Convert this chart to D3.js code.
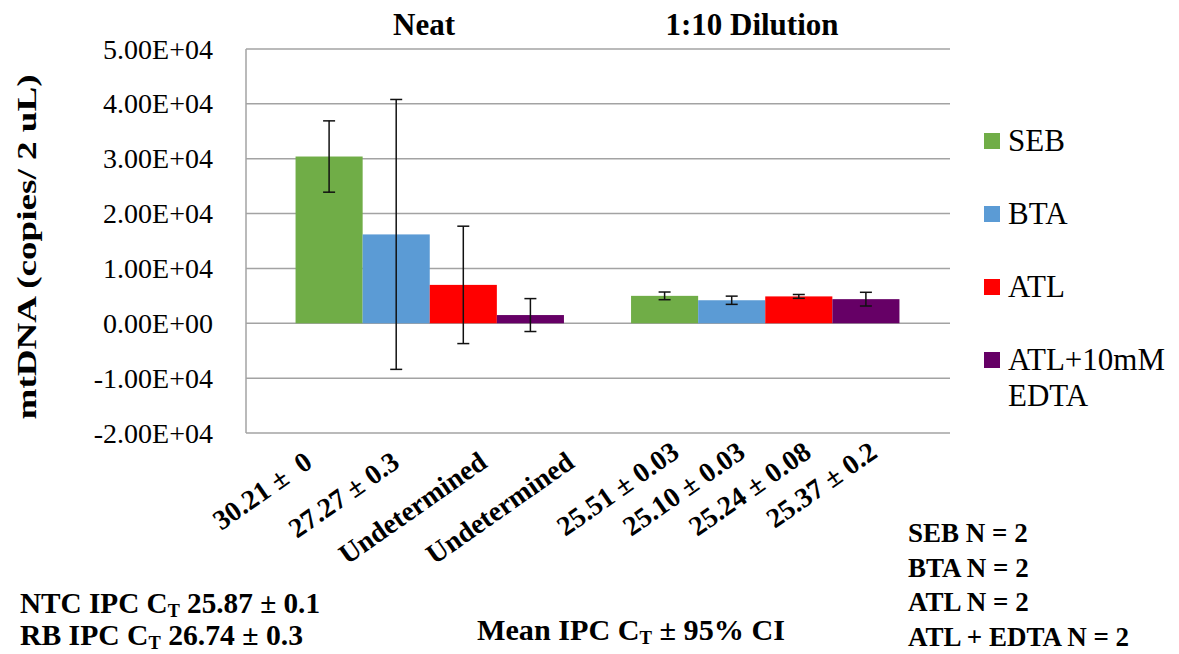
<!DOCTYPE html>
<html>
<head>
<meta charset="utf-8">
<script src="https://cdn.jsdelivr.net/npm/d3@7"></script>
</head>
<body style="margin:0;background:#fff">
<svg id="chart" width="1179" height="654" style="display:block"></svg>
<script>
// ---- data ----
const groups = ["Neat", "1:10 Dilution"];
const seriesNames = ["SEB", "BTA", "ATL", "ATL+10mM EDTA"];
const seriesColors = ["#70AD47", "#5B9BD5", "#FF0000", "#660066"];
const neatValues = [30400, 16200, 7000, 1500];
const neatErrors = [6500, 24600, 10700, 3000];
const dilutionValues = [5000, 4200, 4900, 4400];
const dilutionErrors = [700, 750, 350, 1250];
const neatCtLabels = ["30.21 \u00b1\u00a0 0", "27.27 \u00b1 0.3", "Undetermined", "Undetermined"];
const dilutionCtLabels = ["25.51 \u00b1 0.03", "25.10 \u00b1 0.03", "25.24 \u00b1 0.08", "25.37 \u00b1 0.2"];
const yTicks = [-20000, -10000, 0, 10000, 20000, 30000, 40000, 50000];
const nLines = ["SEB N = 2", "BTA N = 2", "ATL N = 2", "ATL + EDTA N = 2"];

const svg = d3.select("#chart");

// serif text helper
function txt(sel, size, bold){
  return sel.append("text")
    .style("font-family", "Liberation Serif")
    .attr("font-size", size)
    .attr("font-weight", bold ? "bold" : "normal")
    .attr("fill", "#000");
}

const plot = { left: 246, right: 950, top: 49, bottom: 433 };

const y = d3.scaleLinear().domain([-20000, 50000]).range([plot.bottom, plot.top]);
const xGroup = d3.scaleBand().domain(groups).range([262, 933]);
const xSeries = d3.scaleBand().domain(seriesNames).range([0, xGroup.bandwidth()])
  .paddingInner(0).paddingOuter(0.5);
const color = d3.scaleOrdinal().domain(seriesNames).range(seriesColors);

function sciFmt(v){
  if (v === 0) return "0.00E+00";
  const exp = Math.floor(Math.log10(Math.abs(v)));
  const mant = v / Math.pow(10, exp);
  const e = (exp < 0 ? "-" : "+") + String(Math.abs(exp)).padStart(2, "0");
  return mant.toFixed(2) + "E" + e;
}

// ---- gridlines + y axis ----
svg.append("g").selectAll("line")
  .data(yTicks).join("line")
  .attr("x1", plot.left).attr("x2", plot.right)
  .attr("y1", d => y(d)).attr("y2", d => y(d))
  .attr("stroke", "#a3a3a3").attr("stroke-width", 1.5);

svg.append("line")
  .attr("x1", plot.left).attr("x2", plot.left)
  .attr("y1", y(50000)).attr("y2", y(-20000))
  .attr("stroke", "#a3a3a3").attr("stroke-width", 1.5);

const tickG = svg.append("g");
yTicks.forEach(v => {
  txt(tickG, 28, false)
    .attr("x", plot.left - 33).attr("y", y(v)).attr("dy", "0.34em")
    .attr("text-anchor", "end")
    .text(sciFmt(v));
});

txt(svg, 27, true)
  .attr("transform", `translate(36,${(plot.top + plot.bottom) / 2 + 6}) rotate(-90)`)
  .attr("text-anchor", "middle")
  .attr("textLength", 345).attr("lengthAdjust", "spacingAndGlyphs")
  .text("mtDNA (copies/ 2 uL)");

// ---- bars ----
const rows = [];
groups.forEach((g, gi) => {
  const vals = gi === 0 ? neatValues : dilutionValues;
  const errs = gi === 0 ? neatErrors : dilutionErrors;
  seriesNames.forEach((s, si) => rows.push({ group: g, series: s, value: vals[si], err: errs[si] }));
});

const bx = d => xGroup(d.group) + xSeries(d.series);
svg.append("g").selectAll("rect")
  .data(rows).join("rect")
  .attr("x", bx)
  .attr("width", xSeries.bandwidth())
  .attr("y", d => y(Math.max(0, d.value)))
  .attr("height", d => Math.abs(y(d.value) - y(0)))
  .attr("fill", d => color(d.series));

// error bars
const eb = svg.append("g").attr("stroke", "#111").attr("stroke-width", 1.5);
rows.forEach(d => {
  const cx = bx(d) + xSeries.bandwidth() / 2;
  const y1 = y(d.value + d.err), y2 = y(d.value - d.err);
  eb.append("line").attr("x1", cx).attr("x2", cx).attr("y1", y1).attr("y2", y2);
  eb.append("line").attr("x1", cx - 6).attr("x2", cx + 6).attr("y1", y1).attr("y2", y1);
  eb.append("line").attr("x1", cx - 6).attr("x2", cx + 6).attr("y1", y2).attr("y2", y2);
});

// ---- group titles ----
const titleX = [424, 752];
groups.forEach((g, i) => {
  txt(svg, 31, true).attr("x", titleX[i]).attr("y", 35)
    .attr("text-anchor", "middle").text(g);
});

// ---- rotated Ct labels under the bars ----
const labelPos = [
  d3.scalePoint().domain(seriesNames).range([314, 576]),
  d3.scalePoint().domain(seriesNames).range([681, 879])
];
const labelY = [466, 456];
const ctG = svg.append("g");
neatCtLabels.concat(dilutionCtLabels).forEach((t, i) => {
  const gi = i < 4 ? 0 : 1;
  const lx = labelPos[gi](seriesNames[i % 4]);
  txt(ctG, 28, true)
    .attr("transform", `translate(${lx},${labelY[gi]}) rotate(-35)`)
    .attr("text-anchor", "end")
    .text(t);
});

// ---- legend ----
const legend = svg.append("g").attr("transform", "translate(984,141)");
seriesNames.forEach((s, i) => {
  const gg = legend.append("g").attr("transform", `translate(0,${i * 73})`);
  gg.append("rect").attr("x", 0).attr("y", -8).attr("width", 16).attr("height", 16).attr("fill", color(s));
  const words = s === "ATL+10mM EDTA" ? ["ATL+10mM", "EDTA"] : [s];
  const t = txt(gg, 31, false).attr("x", 24).attr("y", 10);
  words.forEach((w, wi) => t.append("tspan").attr("x", 24).attr("dy", wi === 0 ? 0 : 36).text(w));
});

// ---- footnotes ----
function ctText(x, yy, pre, post, len){
  const t = txt(svg, 29, true).attr("x", x).attr("y", yy)
    .attr("textLength", len).attr("lengthAdjust", "spacingAndGlyphs");
  t.append("tspan").text(pre + "C");
  t.append("tspan").attr("font-size", 18).attr("dy", 4).text("T");
  t.append("tspan").attr("dy", -4).text(post);
  return t;
}
ctText(20, 613, "NTC IPC ", " 25.87 \u00b1 0.1", 300);
ctText(20, 645, "RB IPC ", " 26.74 \u00b1 0.3", 283);
ctText(477, 640, "Mean IPC ", " \u00b1 95% CI", 308);

nLines.forEach((l, i) => {
  txt(svg, 27, true).attr("x", 908).attr("y", 542 + i * 34.5).text(l);
});
</script>
</body>
</html>
